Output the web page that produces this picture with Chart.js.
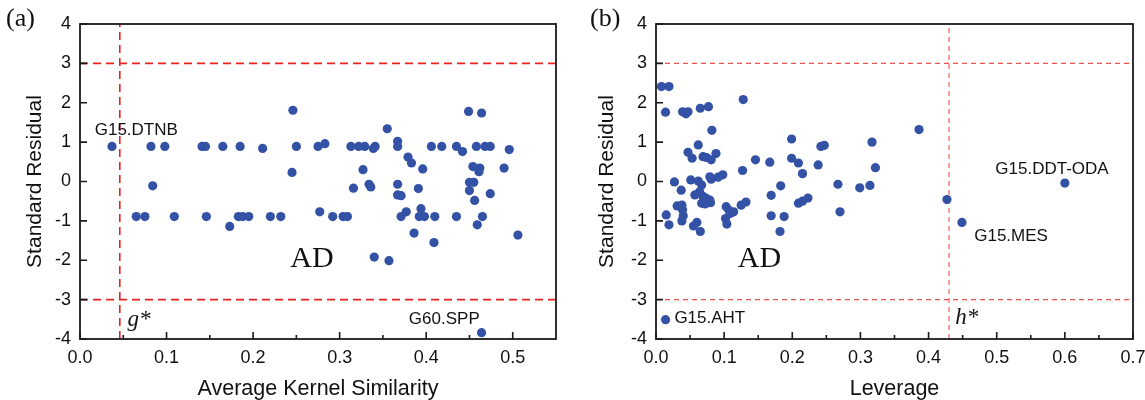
<!DOCTYPE html>
<html>
<head>
<meta charset="utf-8">
<script src="https://cdn.jsdelivr.net/npm/chart.js@4.4.0/dist/chart.umd.min.js"></script>
<style>
  body { margin: 0; background: #fff; }
  #wrap { position: relative; width: 1145px; height: 400px; }
  .pane { position: absolute; top: 0; }
  .tag { position: absolute; top: 3px; font: 26px "Liberation Serif", serif; color: #111; }
</style>
</head>
<body>
<div id="wrap">
  <div class="pane" style="left:0"><canvas id="chartA" width="572" height="400"></canvas></div>
  <div class="pane" style="left:572px"><canvas id="chartB" width="573" height="400"></canvas></div>
  <div class="tag" style="left:6px">(a)</div>
  <div class="tag" style="left:590px">(b)</div>
</div>
<script>
// (a) average kernel similarity vs standard residual
const simX = [0.037, 0.082, 0.098, 0.084, 0.065, 0.075, 0.109, 0.141, 0.145, 0.146,
  0.165, 0.173, 0.185, 0.183, 0.188, 0.195, 0.211, 0.220, 0.232, 0.246,
  0.245, 0.250, 0.275, 0.283, 0.277, 0.292, 0.304, 0.309, 0.313, 0.322,
  0.329, 0.339, 0.341, 0.327, 0.316, 0.334, 0.336, 0.340, 0.355, 0.357,
  0.367, 0.367, 0.367, 0.367, 0.371, 0.371, 0.377, 0.379, 0.383, 0.396,
  0.391, 0.394, 0.392, 0.398, 0.386, 0.406, 0.418, 0.410, 0.409, 0.435,
  0.442, 0.435, 0.449, 0.464, 0.458, 0.468, 0.474, 0.454, 0.462, 0.461,
  0.450, 0.455, 0.450, 0.456, 0.474, 0.465, 0.459, 0.490, 0.496, 0.506,
  0.464];
const simY = [0.89, 0.89, 0.89, -0.11, -0.89, -0.89, -0.89, 0.89, 0.89, -0.89,
  0.89, -1.14, 0.89, -0.89, -0.89, -0.89, 0.84, -0.89, -0.89, 1.81,
  0.23, 0.89, 0.89, 0.96, -0.77, -0.89, -0.89, -0.89, 0.89, 0.89,
  0.89, 0.84, 0.89, 0.30, -0.17, -0.07, -0.14, -1.92, 1.34, -2.01,
  1.02, 0.89, -0.07, -0.34, -0.36, -0.89, -0.77, 0.62, 0.47, 0.32,
  -0.18, -0.69, -0.89, -0.89, -1.31, 0.89, 0.89, -0.89, -1.55, 0.89,
  0.76, -0.89, 1.78, 1.74, 0.89, 0.89, 0.89, 0.38, 0.34, 0.25,
  -0.02, -0.02, -0.23, -0.48, -0.31, -0.89, -1.10, 0.34, 0.81, -1.36,
  -3.84];

// (b) leverage vs standard residual
const levX = [0.008, 0.019, 0.014, 0.039, 0.044, 0.047, 0.065, 0.077, 0.128, 0.082,
  0.062, 0.047, 0.053, 0.069, 0.074, 0.081, 0.088, 0.027, 0.051, 0.062,
  0.067, 0.079, 0.081, 0.091, 0.098, 0.037, 0.057, 0.064, 0.069, 0.074,
  0.079, 0.067, 0.072, 0.080, 0.031, 0.038, 0.039, 0.040, 0.015, 0.019,
  0.038, 0.055, 0.060, 0.065, 0.103, 0.107, 0.109, 0.114, 0.102, 0.104,
  0.127, 0.125, 0.132, 0.146, 0.167, 0.169, 0.169, 0.183, 0.188, 0.182,
  0.199, 0.199, 0.209, 0.215, 0.209, 0.215, 0.223, 0.238, 0.242, 0.247,
  0.267, 0.270, 0.299, 0.314, 0.317, 0.322, 0.386, 0.427, 0.449, 0.600,
  0.014];
const levY = [2.41, 2.41, 1.76, 1.77, 1.72, 1.77, 1.86, 1.90, 2.08, 1.30,
  0.93, 0.74, 0.59, 0.63, 0.61, 0.55, 0.71, -0.01, 0.04, 0.01,
  -0.09, 0.12, 0.06, 0.11, 0.17, -0.22, -0.34, -0.26, -0.38, -0.43,
  -0.47, -0.55, -0.57, -0.54, -0.62, -0.60, -0.72, -0.87, -0.85, -1.10,
  -1.00, -1.13, -1.04, -1.27, -0.64, -0.73, -0.81, -0.77, -0.94, -1.08,
  0.28, -0.60, -0.52, 0.55, 0.49, -0.35, -0.87, -0.11, -0.89, -1.27,
  1.08, 0.59, 0.47, 0.20, -0.55, -0.50, -0.42, 0.42, 0.89, 0.92,
  -0.07, -0.77, -0.16, -0.10, 1.00, 0.35, 1.32, -0.46, -1.04, -0.04,
  -3.51];

const xTicksA = [0, 0.1, 0.2, 0.3, 0.4, 0.5];
const xTicksB = [0, 0.1, 0.2, 0.3, 0.4, 0.5, 0.6, 0.7];
const yTicks = [-4, -3, -2, -1, 0, 1, 2, 3, 4];

const gStar = 0.046;
const hStar = 0.43;
const residLimit = 3;

const notesA = [
  { text: 'G15.DTNB', x: 0.017, y: 1.31, font: '17px "Liberation Sans"' },
  { text: 'G60.SPP', x: 0.380, y: -3.49, font: '17px "Liberation Sans"' },
  { text: 'AD', x: 0.243, y: -1.97, font: '30px "Liberation Serif"' },
  { text: 'g*', x: 0.055, y: -3.52, font: 'italic 23px "Liberation Serif"' }
];
const notesB = [
  { text: 'G15.DDT-ODA', x: 0.498, y: 0.32, font: '17px "Liberation Sans"' },
  { text: 'G15.MES', x: 0.467, y: -1.38, font: '17px "Liberation Sans"' },
  { text: 'G15.AHT', x: 0.027, y: -3.47, font: '17px "Liberation Sans"' },
  { text: 'h*', x: 0.439, y: -3.47, font: 'italic 23px "Liberation Serif"' },
  { text: 'AD', x: 0.120, y: -1.97, font: '30px "Liberation Serif"' }
];

const dotColor = '#3352a6';
const sans = 'Liberation Sans';

// frame, inward ticks and text notes
const framePlugin = {
  id: 'frame',
  afterDatasetsDraw(chart, args, opts) {
    const { ctx, chartArea: a, scales: { x, y } } = chart;
    ctx.save();
    ctx.strokeStyle = '#1a1a1a';
    ctx.lineWidth = 1.6;
    ctx.beginPath();
    x.ticks.forEach(t => {
      const px = x.getPixelForValue(t.value);
      ctx.moveTo(px, a.bottom);
      ctx.lineTo(px, a.bottom - 7);
      const m = t.value + 0.05;
      if (m < x.max - 0.001) {
        const pm = x.getPixelForValue(m);
        ctx.moveTo(pm, a.bottom);
        ctx.lineTo(pm, a.bottom - 4);
      }
    });
    y.ticks.forEach(t => {
      const py = y.getPixelForValue(t.value);
      ctx.moveTo(a.left, py);
      ctx.lineTo(a.left + 7, py);
    });
    ctx.stroke();
    ctx.lineWidth = 1.8;
    ctx.strokeRect(a.left, a.top, a.right - a.left, a.bottom - a.top);

    ctx.fillStyle = '#111';
    ctx.textAlign = 'left';
    ctx.textBaseline = 'middle';
    opts.notes.forEach(n => {
      ctx.font = n.font;
      ctx.fillText(n.text, x.getPixelForValue(n.x), y.getPixelForValue(n.y));
    });
    ctx.restore();
  }
};

function makeChart(id, xs, ys, xMax, xTicks, cut, xTitle, notes, lineStyle, padRight, yWidth) {
  const pts = xs.map((v, i) => ({ x: v, y: ys[i] }));
  const guide = (data) => ({
    data: data,
    showLine: true,
    pointRadius: 0,
    borderColor: lineStyle.color,
    borderWidth: lineStyle.width,
    borderDash: lineStyle.dash,
    fill: false
  });
  return new Chart(document.getElementById(id), {
    type: 'scatter',
    data: {
      datasets: [
        {
          data: pts,
          backgroundColor: dotColor,
          borderWidth: 0,
          pointRadius: 4.6
        },
        guide([{ x: 0, y: residLimit }, { x: xMax, y: residLimit }]),
        guide([{ x: 0, y: -residLimit }, { x: xMax, y: -residLimit }]),
        guide([{ x: cut, y: -4 }, { x: cut, y: 4 }])
      ]
    },
    options: {
      responsive: false,
      animation: false,
      layout: { padding: { top: 24, right: padRight, left: 0, bottom: 0 } },
      plugins: {
        legend: { display: false },
        tooltip: { enabled: false },
        frame: { notes: notes }
      },
      scales: {
        x: {
          type: 'linear',
          min: 0,
          max: xMax,
          afterBuildTicks: s => { s.ticks = xTicks.map(v => ({ value: v })); },
          afterFit: s => { s.height = 61; s.paddingLeft = 0; s.paddingRight = 0; },
          grid: { display: false, drawTicks: false },
          border: { display: false },
          ticks: {
            padding: 8,
            color: '#111',
            font: { family: sans, size: 18 },
            maxRotation: 0,
            callback: v => v.toFixed(1)
          },
          title: {
            display: true,
            text: xTitle,
            color: '#111',
            font: { family: sans, size: 21.5, lineHeight: 1 },
            padding: { top: 0, bottom: 0 }
          }
        },
        y: {
          min: -4,
          max: 4,
          afterBuildTicks: s => { s.ticks = yTicks.map(v => ({ value: v })); },
          afterFit: s => { s.width = yWidth; },
          grid: { display: false, drawTicks: false },
          border: { display: false },
          ticks: {
            padding: 9,
            color: '#111',
            font: { family: sans, size: 18 },
            callback: v => String(v)
          },
          title: {
            display: true,
            text: 'Standard Residual',
            color: '#111',
            font: { family: sans, size: 21, lineHeight: 1.2 },
            padding: { top: 23, bottom: 0 }
          }
        }
      }
    },
    plugins: [framePlugin]
  });
}

makeChart('chartA', simX, simY, 0.55, xTicksA, gStar, 'Average Kernel Similarity', notesA,
  { color: '#e8231f', width: 1.6, dash: [8, 5] }, 16, 80);
makeChart('chartB', levX, levY, 0.7, xTicksB, hStar, 'Leverage', notesB,
  { color: '#ef5350', width: 1.1, dash: [5, 4] }, 12, 84);
</script>
</body>
</html>
